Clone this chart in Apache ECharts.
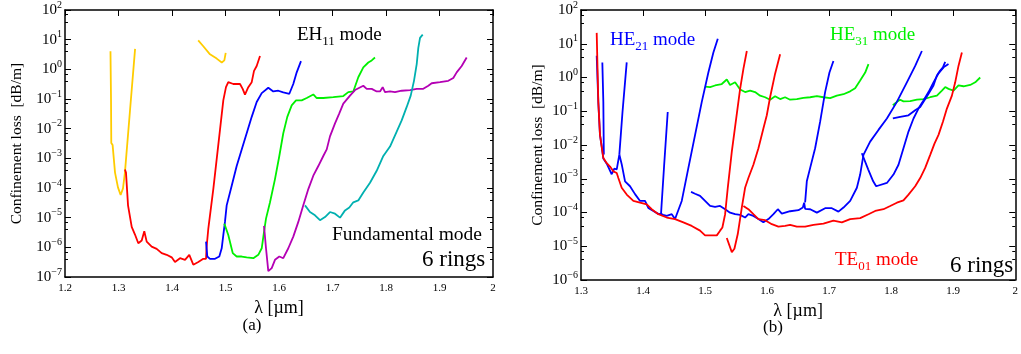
<!DOCTYPE html>
<html>
<head>
<meta charset="utf-8">
<script src="https://cdn.jsdelivr.net/npm/echarts@6/dist/echarts.min.js"></script>
<style>
  html, body { margin: 0; padding: 0; background: #fff; }
  #chart { width: 1021px; height: 354px; }
</style>
</head>
<body>
<div id="chart"></div>
<script>
const serif = 'Liberation Serif';

// ---- panel (a): wavelength [um], loss [dB/m] ----
const aYellowLow = [[1.285, 4.1], [1.286, 0.1], [1.2865, 3.3e-3], [1.289, 2.8e-3], [1.2935, 3.3e-4], [1.299, 1.05e-4], [1.304, 5.8e-5], [1.3084, 9.7e-5], [1.312, 3.3e-4], [1.3215, 0.041], [1.331, 4.9]];
const aYellowHigh = [[1.449, 9.5], [1.4585, 6.0], [1.471, 3.2], [1.4836, 2.3], [1.493, 1.7], [1.4978, 2.0], [1.5004, 3.6]];
const aRed = [[1.312, 4.2e-4], [1.314, 3.3e-4], [1.3178, 2.6e-5], [1.3247, 4.9e-6], [1.3308, 2.7e-6], [1.337, 1.37e-6], [1.3434, 1.7e-6], [1.3482, 3.5e-6], [1.3527, 1.56e-6], [1.362, 1.06e-6], [1.3714, 8.9e-7], [1.3807, 6.4e-7], [1.39, 5.6e-7], [1.3994, 4.6e-7], [1.4056, 3.2e-7], [1.415, 4.3e-7], [1.4243, 3.8e-7], [1.4323, 5.6e-7], [1.4398, 2.6e-7], [1.4492, 3.2e-7], [1.4585, 4.1e-7], [1.4636, 4.1e-7], [1.4645, 9.3e-7], [1.4679, 4.3e-6], [1.4772, 9.2e-5], [1.4897, 9.1e-3], [1.4959, 0.09], [1.5009, 0.25], [1.5052, 0.37], [1.5146, 0.32], [1.5271, 0.32], [1.5321, 0.22], [1.5364, 0.14], [1.5426, 0.25], [1.549, 0.37], [1.5533, 0.89], [1.5583, 1.3], [1.5645, 2.8]];
const aBlue = [[1.4636, 1.56e-6], [1.466, 4.9e-7], [1.471, 4.1e-7], [1.4804, 4.1e-7], [1.4884, 4.9e-7], [1.4929, 9.3e-7], [1.4959, 2.6e-6], [1.499, 7.2e-6], [1.5022, 2.6e-5], [1.5116, 1.19e-4], [1.5209, 5.5e-4], [1.5303, 2.0e-3], [1.5396, 7.0e-3], [1.549, 0.025], [1.5583, 0.079], [1.5677, 0.158], [1.58, 0.24], [1.5893, 0.18], [1.5987, 0.19], [1.608, 0.166], [1.6193, 0.15], [1.6267, 0.32], [1.6331, 0.79], [1.6411, 1.9]];
const aGreen = [[1.4978, 6.3e-6], [1.5052, 2.6e-6], [1.5135, 6.4e-7], [1.5209, 4.9e-7], [1.5303, 4.9e-7], [1.5396, 4.6e-7], [1.552, 4.3e-7], [1.5613, 5.6e-7], [1.5677, 9.3e-7], [1.572, 3.3e-6], [1.5757, 9.3e-6], [1.5832, 3.3e-5], [1.5925, 2.0e-4], [1.6006, 1.2e-3], [1.608, 7.0e-3], [1.6155, 0.025], [1.6237, 0.061], [1.6318, 0.09], [1.6424, 0.09], [1.6518, 0.108], [1.6641, 0.142], [1.6705, 0.108], [1.6828, 0.108], [1.7015, 0.116], [1.7202, 0.126], [1.7295, 0.17], [1.7389, 0.18], [1.7482, 0.54], [1.7576, 1.16], [1.7669, 1.7], [1.7733, 2.0], [1.7794, 2.5]];
const aMagenta = [[1.572, 5.3e-6], [1.5757, 9.3e-7], [1.58, 1.57e-7], [1.5864, 2.0e-7], [1.5925, 3.8e-7], [1.6006, 4.9e-7], [1.608, 4.3e-7], [1.6174, 9.3e-7], [1.6267, 2.3e-6], [1.6361, 7.2e-6], [1.6454, 2.6e-5], [1.6548, 9.2e-5], [1.6641, 2.6e-4], [1.6735, 5.5e-4], [1.6828, 1.2e-3], [1.6892, 2.0e-3], [1.6953, 5.5e-3], [1.7047, 0.015], [1.7127, 0.033], [1.7202, 0.07], [1.7327, 0.13], [1.7421, 0.2], [1.7576, 0.28], [1.7639, 0.22], [1.7733, 0.22], [1.7826, 0.18], [1.7888, 0.18], [1.7938, 0.25], [1.7981, 0.17], [1.8075, 0.18], [1.8168, 0.17], [1.8293, 0.19], [1.8449, 0.2], [1.8574, 0.22], [1.8697, 0.22], [1.8791, 0.28], [1.8854, 0.34], [1.9009, 0.37], [1.9164, 0.41], [1.9258, 0.51], [1.9321, 0.79], [1.9415, 1.3], [1.9508, 2.5]];
const aCyan = [[1.6486, 2.6e-5], [1.6579, 1.55e-5], [1.6673, 1.2e-5], [1.6766, 8.2e-6], [1.686, 1.05e-5], [1.6953, 1.55e-5], [1.7047, 1.36e-5], [1.714, 1.0e-5], [1.7234, 1.76e-5], [1.7314, 2.2e-5], [1.7389, 3.3e-5], [1.7482, 3.8e-5], [1.7576, 7.1e-5], [1.7701, 1.5e-4], [1.7826, 3.8e-4], [1.795, 1.2e-3], [1.8075, 2.5e-3], [1.82, 8.0e-3], [1.8293, 0.019], [1.8387, 0.054], [1.8462, 0.13], [1.8523, 0.41], [1.8574, 1.5], [1.8604, 5.3], [1.8636, 11.5], [1.8686, 14.8]];

// ---- panel (b) ----
const bRedLeft = [[1.3253, 21], [1.3279, 0.19], [1.3306, 0.020], [1.336, 4.1e-3], [1.3415, 2.9e-3], [1.3468, 2.3e-3], [1.3521, 1.66e-3], [1.3576, 1.48e-3], [1.3602, 1.05e-3], [1.3656, 5.4e-4], [1.3737, 3.4e-4], [1.3844, 2.2e-4], [1.3952, 1.95e-4], [1.406, 1.75e-4], [1.414, 1.25e-4], [1.4247, 8.9e-5], [1.4382, 7.1e-5], [1.4516, 6.4e-5], [1.465, 5.1e-5], [1.4785, 4.0e-5], [1.4919, 2.9e-5], [1.5, 2.1e-5], [1.5108, 2.1e-5], [1.5189, 2.1e-5], [1.5242, 2.9e-5], [1.5279, 3.6e-5], [1.5323, 8.9e-5], [1.5366, 5.4e-4], [1.5431, 6.4e-3], [1.5495, 0.049], [1.5565, 0.46], [1.5618, 1.8], [1.5673, 6.1]];
const bRedDip = [[1.535, 1.76e-5], [1.5431, 6.7e-6], [1.5473, 8.4e-6], [1.5527, 2.3e-5], [1.5592, 1.4e-4], [1.5645, 5.4e-4], [1.5698, 1.05e-3], [1.5779, 2.6e-3], [1.586, 8.0e-3], [1.594, 0.031], [1.5995, 0.076], [1.6048, 0.26], [1.6129, 1.3], [1.621, 4.9]];
const bRedRight = [[1.5618, 1.56e-4], [1.5698, 1.25e-4], [1.5779, 8.9e-5], [1.586, 6.4e-5], [1.5968, 5.9e-5], [1.6076, 4.5e-5], [1.6182, 3.8e-5], [1.629, 4.0e-5], [1.6371, 4.3e-5], [1.6479, 3.8e-5], [1.6613, 3.8e-5], [1.6747, 4.3e-5], [1.6908, 4.7e-5], [1.7069, 5.7e-5], [1.7205, 5.1e-5], [1.7339, 6.4e-5], [1.75, 6.8e-5], [1.7634, 8.9e-5], [1.7742, 1.11e-4], [1.7876, 1.25e-4], [1.7984, 1.56e-4], [1.8092, 1.95e-4], [1.8198, 2.3e-4], [1.8279, 3.4e-4], [1.8387, 6.0e-4], [1.8468, 1.05e-3], [1.8548, 2.1e-3], [1.8629, 5.1e-3], [1.8698, 0.011], [1.8763, 0.020], [1.8834, 0.049], [1.8898, 0.12], [1.8979, 0.29], [1.9032, 0.72], [1.9085, 2.2], [1.914, 5.5]];
const bBlueMain = [[1.3253, 4.4], [1.3279, 0.19], [1.3306, 0.020], [1.3334, 9.0e-3], [1.336, 4.0e-3], [1.3415, 2.8e-3], [1.3495, 1.36e-3], [1.3537, 2.0e-3], [1.3576, 1.9e-3], [1.3618, 5.2e-3], [1.3656, 2.7e-3], [1.371, 8.4e-4], [1.379, 6.0e-4], [1.3871, 3.5e-4], [1.3952, 2.2e-4], [1.4032, 2.2e-4], [1.4085, 1.36e-4], [1.4166, 1.11e-4], [1.4247, 9.1e-5], [1.429, 9.1e-5], [1.4323, 8.5e-5], [1.4382, 7.9e-5], [1.4463, 8.9e-5], [1.4516, 6.4e-5], [1.4624, 2.2e-4], [1.4731, 2.1e-3], [1.4839, 0.020], [1.4947, 0.19], [1.5053, 1.4], [1.5134, 5.5], [1.5205, 14]];
const bBlueSpikeA = [[1.3368, 5.2e-3], [1.336, 0.19], [1.3344, 2.8]];
const bBlueSpikeB = [[1.3618, 5.2e-3], [1.3669, 0.095], [1.3737, 2.8]];
const bBlueSpikeC = [[1.429, 9.1e-5], [1.4298, 1.56e-4], [1.4339, 2.3e-3], [1.4398, 0.095]];
const bBlueFlat = [[1.4774, 4.1e-4], [1.4839, 3.6e-4], [1.4919, 3.1e-4], [1.5, 2.2e-4], [1.5081, 1.56e-4], [1.5161, 1.46e-4], [1.5242, 1.56e-4], [1.5323, 1.25e-4], [1.5403, 9.9e-5], [1.5484, 8.9e-5], [1.5565, 8.5e-5], [1.5645, 7.1e-5], [1.5698, 8.9e-5], [1.5779, 7.9e-5], [1.586, 6.4e-5], [1.594, 5.1e-5], [1.6021, 6.4e-5], [1.6102, 8.9e-5], [1.6173, 1.25e-4], [1.6237, 9.3e-5], [1.6371, 1.09e-4], [1.6505, 1.17e-4], [1.6576, 1.4e-4], [1.6597, 1.95e-4], [1.6613, 1.28e-4], [1.6694, 1.25e-4], [1.6802, 9.9e-5], [1.6935, 1.34e-4], [1.7044, 1.34e-4], [1.715, 1.06e-4], [1.7231, 1.4e-4], [1.7339, 2.2e-4], [1.7447, 5.4e-4], [1.75, 1.33e-3], [1.7553, 5.1e-3], [1.7661, 0.0126], [1.7795, 0.028], [1.7931, 0.061], [1.8092, 0.19], [1.8253, 0.72], [1.8387, 2.2], [1.8495, 6.1]];
const bBlueSteep = [[1.6613, 2.0e-4], [1.664, 8.4e-4], [1.6694, 2.1e-3], [1.6774, 8.0e-3], [1.6855, 0.049], [1.6935, 0.37], [1.7005, 1.4], [1.7069, 3.1]];
const bBlueCross = [[1.7527, 5.7e-3], [1.7629, 1.9e-3], [1.771, 8.4e-4], [1.7758, 6.0e-4], [1.7931, 7.5e-4], [1.8037, 1.33e-3], [1.8118, 2.6e-3], [1.8198, 8.0e-3], [1.8279, 0.025], [1.836, 0.061], [1.844, 0.12], [1.8521, 0.21], [1.8602, 0.37], [1.8682, 0.72], [1.8763, 1.33], [1.8844, 2.0], [1.8924, 2.5]];
const bBlueUpper = [[1.8027, 0.061], [1.8145, 0.068], [1.8279, 0.076], [1.8387, 0.107], [1.8468, 0.134], [1.8521, 0.19], [1.8602, 0.33], [1.8682, 0.58], [1.8737, 1.14], [1.879, 1.6], [1.8834, 2.0], [1.8871, 2.9]];
const bGreenLeft = [[1.5, 0.54], [1.5081, 0.52], [1.5161, 0.58], [1.5269, 0.64], [1.535, 0.87], [1.5403, 0.60], [1.5484, 0.72], [1.5565, 0.44], [1.5645, 0.37], [1.5726, 0.41], [1.5806, 0.37], [1.5887, 0.29], [1.5968, 0.26], [1.6048, 0.22], [1.6129, 0.28], [1.621, 0.23], [1.629, 0.26], [1.6371, 0.22], [1.6479, 0.23], [1.6585, 0.25], [1.6694, 0.26], [1.6802, 0.28], [1.6908, 0.26], [1.7016, 0.245], [1.7124, 0.29], [1.7231, 0.32], [1.7339, 0.39], [1.7419, 0.48], [1.75, 0.81], [1.7581, 1.4], [1.7634, 2.5]];
const bGreenRight = [[1.8027, 0.15], [1.8092, 0.19], [1.8145, 0.22], [1.8198, 0.196], [1.8306, 0.2], [1.8415, 0.22], [1.8521, 0.23], [1.8629, 0.26], [1.8737, 0.29], [1.8818, 0.41], [1.8871, 0.52], [1.8924, 0.46], [1.9005, 0.41], [1.9085, 0.58], [1.9166, 0.55], [1.9274, 0.60], [1.9355, 0.72], [1.9435, 1.0]];

const RED = '#ff0000', BLUE = '#0000ff', GREEN = '#00f000',
      GOLD = '#ffcc00', MAGENTA = '#b400b4', CYAN = '#00b0b0';

const chart = echarts.init(document.getElementById('chart'));

const decadeLabel = v => {
  const e = Math.round(Math.log10(v));
  return '{b|10}{s|' + String(e).replace('-', '\u2212') + '}';
};
const decadeRich = {
  b: { fontSize: 15, fontFamily: serif, color: '#000' },
  s: { fontSize: 10, fontFamily: serif, color: '#000', padding: [0, 0, 10, 0] }
};
const xLabel = v => (Math.abs(v - 2) < 1e-6 ? '2' : v.toFixed(1));
const frame = { lineStyle: { color: '#000', width: 1.5 } };

function xAxes(g, min) {
  return [
    {
      gridIndex: g, type: 'value', min: min, max: 2, interval: 0.1, position: 'bottom',
      axisLine: frame, axisTick: { show: false }, splitLine: { show: false },
      axisLabel: { formatter: xLabel, fontSize: 11, fontFamily: serif, color: '#000', margin: 6 },
      name: 'λ [µm]', nameLocation: 'middle', nameGap: 21,
      nameTextStyle: { fontSize: 18, fontFamily: serif, color: '#000' }
    },
    {
      gridIndex: g, type: 'value', min: min, max: 2, interval: 0.1, position: 'top',
      axisLine: frame, splitLine: { show: false }, axisLabel: { show: false },
      axisTick: { inside: true, length: 6, lineStyle: { color: '#000' } }
    }
  ];
}

function yAxes(g, min, splits, gap) {
  const ticks = {
    axisTick: { inside: true, length: 6, lineStyle: { color: '#000' } },
    minorTick: { show: true, splitNumber: 3, length: 3, lineStyle: { color: '#000' } }
  };
  return [
    Object.assign({
      gridIndex: g, type: 'log', logBase: 10, min: min, max: 100, splitNumber: splits,
      position: 'left', axisLine: frame, splitLine: { show: false },
      axisLabel: { formatter: decadeLabel, rich: decadeRich, margin: 3 },
      name: 'Confinement loss  [dB/m]', nameLocation: 'middle', nameRotate: 90, nameGap: gap,
      nameTextStyle: { fontSize: 15.5, fontFamily: serif, color: '#000' }
    }, ticks),
    Object.assign({
      gridIndex: g, type: 'log', logBase: 10, min: min, max: 100, splitNumber: splits,
      position: 'right', axisLine: frame, splitLine: { show: false }, axisLabel: { show: false }
    }, ticks)
  ];
}

const line = (data, color, g) => ({
  type: 'line', xAxisIndex: g * 2, yAxisIndex: g * 2, data: data,
  showSymbol: false, silent: true, animation: false,
  lineStyle: { color: color, width: 1.8 }, itemStyle: { color: color }
});

const label = (x, y, text, size, color, align) => ({
  type: 'text', x: x, y: y, silent: true,
  style: {
    text: text, fill: color || '#000', align: align || 'left', verticalAlign: 'middle',
    font: size + 'px ' + serif,
    rich: {
      n: { fontSize: size, fontFamily: serif, fill: color || '#000' },
      s: { fontSize: Math.round(size * 0.7), fontFamily: serif, fill: color || '#000', padding: [14, 0, 0, 0] }
    }
  }
});

chart.setOption({
  backgroundColor: '#fff',
  animation: false,
  grid: [
    { left: 65, top: 5, width: 428, height: 272 },
    { left: 581, top: 7, width: 435, height: 273 }
  ],
  xAxis: xAxes(0, 1.2).concat(xAxes(1, 1.3)),
  yAxis: yAxes(0, 1e-7, 9, 40).concat(yAxes(1, 1e-6, 8, 35)),
  series: [
    line(aYellowLow, GOLD, 0), line(aYellowHigh, GOLD, 0),
    line(aRed, RED, 0), line(aBlue, BLUE, 0), line(aGreen, GREEN, 0),
    line(aMagenta, MAGENTA, 0), line(aCyan, CYAN, 0),
    line(bGreenLeft, GREEN, 1), line(bGreenRight, GREEN, 1),
    line(bBlueMain, BLUE, 1), line(bBlueSpikeA, BLUE, 1), line(bBlueSpikeB, BLUE, 1),
    line(bBlueSpikeC, BLUE, 1), line(bBlueFlat, BLUE, 1), line(bBlueSteep, BLUE, 1),
    line(bBlueCross, BLUE, 1), line(bBlueUpper, BLUE, 1),
    line(bRedLeft, RED, 1), line(bRedDip, RED, 1), line(bRedRight, RED, 1)
  ],
  graphic: [
    label(297, 35, '{n|EH}{s|11}{n| mode}', 19),
    label(332, 235, 'Fundamental mode', 19.5),
    label(422, 260, '6 rings', 23),
    label(252, 326, '(a)', 17, '#000', 'center'),
    label(610, 40, '{n|HE}{s|21}{n| mode}', 19, BLUE),
    label(830, 35, '{n|HE}{s|31}{n| mode}', 19, GREEN),
    label(835, 260, '{n|TE}{s|01}{n| mode}', 19, RED),
    label(950, 266, '6 rings', 23),
    label(773, 328, '(b)', 17, '#000', 'center')
  ]
});
</script>
</body>
</html>
